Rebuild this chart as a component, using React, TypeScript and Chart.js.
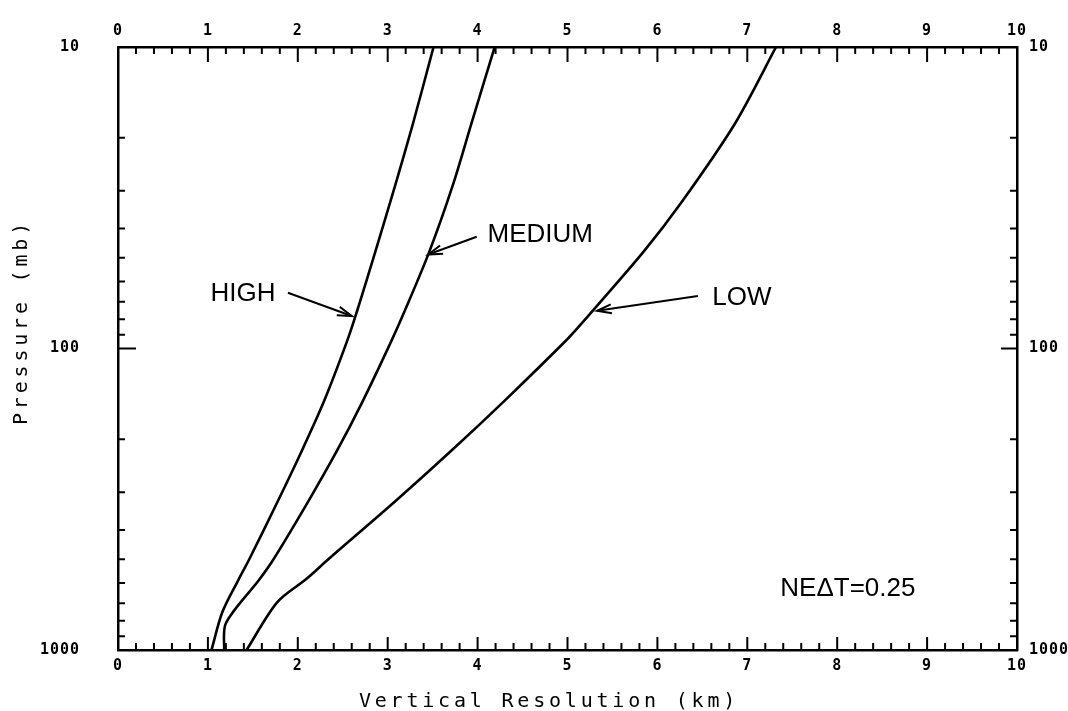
import React, { useEffect, useRef } from "react";
import { Chart, registerables } from "chart.js";

Chart.register(...registerables);

// ---- data ----
const highPressure = [10, 18, 29, 48, 75, 96, 150, 220, 320, 500, 585, 750, 1000];
const highRes = [3.51, 3.28, 3.08, 2.86, 2.66, 2.54, 2.29, 2.04, 1.78, 1.46, 1.34, 1.16, 1.04];

const mediumPressure = [10, 18, 29, 48, 75, 96, 150, 220, 320, 500, 585, 815, 1000];
const mediumRes = [4.19, 3.93, 3.72, 3.46, 3.19, 3.03, 2.72, 2.43, 2.12, 1.73, 1.57, 1.2, 1.18];

const lowPressure = [10, 18, 33, 48, 83, 95, 150, 218, 318, 500, 583, 695, 1000];
const lowRes = [7.32, 6.86, 6.26, 5.84, 5.15, 4.97, 4.29, 3.71, 3.1, 2.34, 2.09, 1.77, 1.43];

const resolutionTicks = [0, 1, 2, 3, 4, 5, 6, 7, 8, 9, 10];
const pressureTicks = [10, 100, 1000];
const pressureMinorTicks = [20, 30, 40, 50, 60, 70, 80, 90, 200, 300, 400, 500, 600, 700, 800, 900];

const curveLabels = ["HIGH", "MEDIUM", "LOW"];
const noteText = "NE\u0394T=0.25";
const xTitle = "Vertical Resolution (km)";
const yTitle = "Pressure (mb)";

const toPoints = (xs: number[], ps: number[]) => xs.map((x, i) => ({ x, y: ps[i] }));

const MONO = "'DejaVu Sans Mono', 'Liberation Mono', monospace";
const SANS = "'Liberation Sans', Arial, Helvetica, sans-serif";

function drawArrow(ctx: CanvasRenderingContext2D, x1: number, y1: number, x2: number, y2: number) {
  ctx.beginPath();
  ctx.moveTo(x1, y1);
  ctx.lineTo(x2, y2);
  ctx.stroke();
  const a = Math.atan2(y2 - y1, x2 - x1);
  const L = 15;
  const w = 0.3;
  ctx.beginPath();
  ctx.moveTo(x2 - L * Math.cos(a - w), y2 - L * Math.sin(a - w));
  ctx.lineTo(x2, y2);
  ctx.lineTo(x2 - L * Math.cos(a + w), y2 - L * Math.sin(a + w));
  ctx.stroke();
}

const decorPlugin = {
  id: "decor",
  beforeDraw(chart: any) {
    const ctx = chart.ctx as CanvasRenderingContext2D;
    ctx.save();
    ctx.fillStyle = "#ffffff";
    ctx.fillRect(0, 0, chart.width, chart.height);
    ctx.restore();
    (ctx as any).letterSpacing = "1px";
  },
  afterDraw(chart: any) {
    const ctx = chart.ctx as CanvasRenderingContext2D;
    const xs = chart.scales.x;
    const ys = chart.scales.y;
    const { left, right, top, bottom } = chart.chartArea;
    ctx.save();
    (ctx as any).letterSpacing = "0px";
    ctx.strokeStyle = "#000";
    ctx.lineWidth = 2;
    ctx.lineCap = "butt";

    // inward tick marks on x (top & bottom)
    for (let i = 1; i < 50; i++) {
      const v = i / 5;
      const px = xs.getPixelForValue(v);
      const major = i % 5 === 0;
      ctx.beginPath();
      ctx.moveTo(px, top);
      ctx.lineTo(px, top + (major ? 15 : 7));
      ctx.moveTo(px, bottom);
      ctx.lineTo(px, bottom - (major ? 13 : 7));
      ctx.stroke();
    }
    // inward tick marks on y (left & right)
    const yTickList = [...pressureMinorTicks, 100];
    for (const p of yTickList) {
      const py = ys.getPixelForValue(p);
      const major = p === 100;
      ctx.beginPath();
      ctx.moveTo(left, py);
      ctx.lineTo(left + (major ? 18 : 7), py);
      ctx.moveTo(right, py);
      ctx.lineTo(right - (major ? 16 : 7), py);
      ctx.stroke();
    }

    // curve labels + arrows
    ctx.fillStyle = "#000";
    ctx.font = `26px ${SANS}`;
    ctx.textBaseline = "alphabetic";
    ctx.textAlign = "left";
    const labelPos = [
      { x: 1.03, p: 65 },
      { x: 4.11, p: 41.5 },
      { x: 6.61, p: 67 },
    ];
    const arrows = [
      { x1: 1.89, p1: 65.3, x2: 2.6, p2: 78 },
      { x1: 3.99, p1: 42.6, x2: 3.45, p2: 48.8 },
      { x1: 6.45, p1: 67, x2: 5.33, p2: 75 },
    ];
    curveLabels.forEach((t, i) => {
      const lp = labelPos[i];
      ctx.fillText(t, xs.getPixelForValue(lp.x), ys.getPixelForValue(lp.p) + 9);
      const a = arrows[i];
      drawArrow(
        ctx,
        xs.getPixelForValue(a.x1),
        ys.getPixelForValue(a.p1),
        xs.getPixelForValue(a.x2),
        ys.getPixelForValue(a.p2)
      );
    });
    ctx.textAlign = "right";
    ctx.fillText(noteText, xs.getPixelForValue(8.87), ys.getPixelForValue(618) + 9);

    // axis titles
    ctx.font = `20px ${MONO}`;
    (ctx as any).letterSpacing = "3.8px";
    ctx.textAlign = "center";
    ctx.textBaseline = "alphabetic";
    ctx.fillText(xTitle, 549, 707);
    ctx.save();
    ctx.translate(27, 322);
    ctx.rotate(-Math.PI / 2);
    ctx.fillText(yTitle, 0, 0);
    ctx.restore();
    ctx.restore();
  },
};

const tickFont = { family: MONO, size: 15, weight: "bold" as const };
const borderOpts = { display: true, color: "#000", width: 2.5 };

function xScale(position: "top" | "bottom", height: number) {
  return {
    type: "linear" as const,
    position,
    min: 0,
    max: 10,
    grid: { display: false, drawTicks: false },
    border: borderOpts,
    ticks: { color: "#000", font: tickFont, padding: 7, maxRotation: 0, autoSkip: false, callback: (v: any) => String(v) },
    afterBuildTicks: (s: any) => {
      s.ticks = resolutionTicks.map((v) => ({ value: v }));
    },
    afterFit: (s: any) => {
      s.height = height;
    },
  };
}

function yScale(position: "left" | "right", width: number, padding: number) {
  return {
    type: "logarithmic" as const,
    position,
    min: 10,
    max: 1000,
    reverse: true,
    grid: { display: false, drawTicks: false },
    border: borderOpts,
    ticks: { color: "#000", font: tickFont, padding, autoSkip: false, callback: (v: any) => String(v) },
    afterBuildTicks: (s: any) => {
      s.ticks = pressureTicks.map((v) => ({ value: v }));
    },
    afterFit: (s: any) => {
      s.width = width;
    },
  };
}

export default function App() {
  const ref = useRef<HTMLCanvasElement>(null);
  useEffect(() => {
    if (!ref.current) return;
    const lineStyle = {
      showLine: true,
      borderColor: "#000",
      backgroundColor: "#000",
      borderWidth: 2.6,
      pointRadius: 0,
      tension: 0.3,
      fill: false,
      xAxisID: "x",
      yAxisID: "y",
    };
    const chart = new Chart(ref.current, {
      type: "scatter",
      data: {
        datasets: [
          { label: curveLabels[0], data: toPoints(highRes, highPressure), ...lineStyle },
          { label: curveLabels[1], data: toPoints(mediumRes, mediumPressure), ...lineStyle },
          { label: curveLabels[2], data: toPoints(lowRes, lowPressure), ...lineStyle },
        ],
      },
      options: {
        responsive: false,
        animation: false,
        devicePixelRatio: 1,
        layout: { padding: 0 },
        plugins: { legend: { display: false }, tooltip: { enabled: false }, title: { display: false } },
        scales: {
          x: xScale("bottom", 61),
          x2: xScale("top", 37),
          y: yScale("left", 118, 38),
          y2: yScale("right", 51, 12),
        } as any,
      },
      plugins: [decorPlugin],
    } as any);
    return () => chart.destroy();
  }, []);
  return (
    <div style={{ position: "absolute", left: 0, top: 0, width: 1068, height: 711, background: "#fff" }}>
      <canvas ref={ref} width={1068} height={711} style={{ display: "block" }} />
    </div>
  );
}
